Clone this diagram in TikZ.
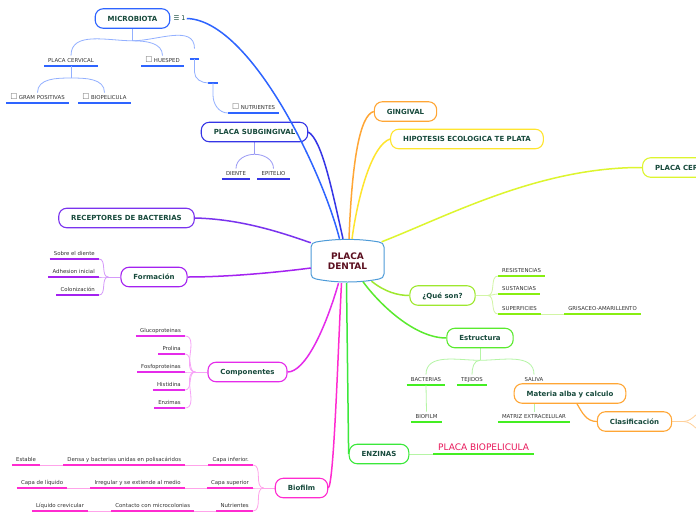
\documentclass[tikz,border=0pt]{standalone}
\usepackage{fontspec}
\setmainfont{DejaVu Sans}
\usepackage{tikz}
\usetikzlibrary{positioning,backgrounds,calc}
\usepackage{xcolor}
\definecolor{darktext}{HTML}{174A3C}
\definecolor{subtext}{HTML}{333333}
\definecolor{boxgray}{HTML}{6E6E6E}
\definecolor{rootred}{HTML}{5C1020}
\definecolor{rootblue}{HTML}{4D9BD8}
\definecolor{mbblue}{HTML}{2E64FF}
\definecolor{mbsoft}{HTML}{93B0FF}
\definecolor{sgblue}{HTML}{3535E6}
\definecolor{sgsoft}{HTML}{9A9AF5}
\definecolor{rcviolet}{HTML}{7A33EE}
\definecolor{fmpurple}{HTML}{A422F0}
\definecolor{fmsoft}{HTML}{D59AFA}
\definecolor{cpmagenta}{HTML}{E52BEA}
\definecolor{cpsoft}{HTML}{F7A3F7}
\definecolor{bfpink}{HTML}{FF2BD0}
\definecolor{bfsoft}{HTML}{FFA3EA}
\definecolor{engreen}{HTML}{3BE83B}
\definecolor{esgreen}{HTML}{5AEA2E}
\definecolor{esline}{HTML}{44EE22}
\definecolor{essoft}{HTML}{B5F5A5}
\definecolor{qsgreen}{HTML}{9EE82E}
\definecolor{qsline}{HTML}{88EE11}
\definecolor{qssoft}{HTML}{D2F5A5}
\definecolor{gvorange}{HTML}{FFA635}
\definecolor{gvsoft}{HTML}{FFD099}
\definecolor{hpyellow}{HTML}{FFE52E}
\definecolor{pclime}{HTML}{DDF52E}
\definecolor{bioredtext}{HTML}{E8185A}
\newcommand{\tickbox}{{\color{boxgray}\fontsize{8}{7}\selectfont ☐}\hspace{1.5pt}}

\begin{document}
\begin{tikzpicture}[
  x=1pt, y=1pt,
  maintopic/.style={
    draw=#1,
    fill=white,
    rounded corners=8pt,
    line width=1.1pt,
    font=\bfseries\fontsize{7}{8}\selectfont,
    text=darktext,
    inner xsep=12.5pt,
    inner ysep=0pt,
    minimum height=19.5pt,
    text height=5pt,
    text depth=0pt
  },
  roottopic/.style={
    font=\bfseries\fontsize{9}{10.5}\selectfont,
    text=rootred,
    align=center,
    minimum width=73pt,
    minimum height=44pt,
    inner sep=0pt
  },
  subtopic/.style={
    font=\fontsize{5.4}{6}\selectfont,
    text=subtext,
    inner xsep=4pt,
    inner ysep=2.5pt,
    text height=4pt,
    text depth=1pt
  },
  uline/.style={draw=#1, line width=1.8pt},
  sublink/.style={draw=#1, line width=0.8pt},
  mainlink/.style={draw=#1, line width=1.5pt},
  rootline/.style={draw=rootblue, line width=1pt, fill=white}
]

  \useasboundingbox (0,0) rectangle (696,-520);
  \clip (0,0) rectangle (696,-520);

  % Central topic
  \node[roottopic] (pd) at (347.5,-261) {PLACA\\DENTAL};

  % --- UPPER LEFT: MICROBIOTA ---
  \node[maintopic=mbblue] (mbiota) at (132.5,-18.5) {MICROBIOTA};
  \node[right=2pt of mbiota, font=\fontsize{6.5}{7}\selectfont, text=darktext, inner sep=1pt] (mbicon) {☰ 1};
  \node[subtopic, anchor=south] (mcerv) at (71,-66) {PLACA CERVICAL};
  \node[subtopic, anchor=south] (mhues) at (162.5,-66) {\tickbox HUESPED};
  \node[subtopic, anchor=south, inner xsep=0pt, minimum width=9pt] (mfirst) at (194.5,-59) {};
  \node[subtopic, anchor=south, inner xsep=0pt, minimum width=9pt] (msecond) at (213,-83) {};
  \node[subtopic, anchor=south west] (mnutr) at (228,-113) {\tickbox NUTRIENTES};
  \node[subtopic, anchor=south] (mgram) at (37.5,-103) {\tickbox GRAM POSITIVAS};
  \node[subtopic, anchor=south] (mbiop) at (104.5,-103) {\tickbox BIOPELICULA};

  % --- PLACA SUBGINGIVAL ---
  \node[maintopic=sgblue] (subg) at (254.5,-132) {PLACA SUBGINGIVAL};
  \node[subtopic, anchor=south] (sdien) at (236,-179) {DIENTE};
  \node[subtopic, anchor=south] (sepit) at (273.5,-179) {EPITELIO};

  % --- LEFT SIDE ---
  \node[maintopic=rcviolet] (recep) at (126.5,-218) {RECEPTORES DE BACTERIAS};

  \node[maintopic=fmpurple] (formac) at (154,-277) {Formación};
  \node[subtopic, anchor=south east] (fsobre) at (99,-259) {Sobre el diente};
  \node[subtopic, anchor=south east] (fadhe) at (99,-277) {Adhesion inicial};
  \node[subtopic, anchor=south east] (fcolo) at (99,-295) {Colonización};

  \node[maintopic=cpmagenta] (compon) at (247.5,-372) {Componentes};
  \node[subtopic, anchor=south east] (cgluc) at (185,-336) {Glucoproteinas};
  \node[subtopic, anchor=south east] (cprol) at (185,-354) {Prolina};
  \node[subtopic, anchor=south east] (cfosf) at (185,-372) {Fosfoproteinas};
  \node[subtopic, anchor=south east] (chist) at (185,-390) {Histidina};
  \node[subtopic, anchor=south east] (cenzi) at (185,-408) {Enzimas};

  \node[maintopic=bfpink] (biofilm) at (301.5,-488) {Biofilm};
  \node[subtopic, anchor=south east] (binf) at (253,-465) {Capa inferior.};
  \node[subtopic, left=23pt of binf.south west, anchor=south east] (bdensa) {Densa y bacterias unidas en polisacáridos};
  \node[subtopic, left=23pt of bdensa.south west, anchor=south east] (bestab) {Estable};
  \node[subtopic, anchor=south east] (bsup) at (253,-488) {Capa superior};
  \node[subtopic, left=22pt of bsup.south west, anchor=south east] (birreg) {Irregular y se extiende al medio};
  \node[subtopic, left=23pt of birreg.south west, anchor=south east] (bliq) {Capa de líquido};
  \node[subtopic, anchor=south east] (bnutr) at (253,-511) {Nutrientes};
  \node[subtopic, left=22pt of bnutr.south west, anchor=south east] (bcont) {Contacto con microcolonias};
  \node[subtopic, left=23pt of bcont.south west, anchor=south east] (bcrev) {Líquido crevicular};

  % --- RIGHT SIDE ---
  \node[maintopic=gvorange] (gingival) at (405.5,-111.5) {GINGIVAL};
  \node[maintopic=hpyellow] (hipot) at (467,-139) {HIPOTESIS ECOLOGICA TE PLATA};
  \node[maintopic=pclime, anchor=west] (placacer) at (642,-167.5) {PLACA CERVICAL};

  \node[maintopic=qsgreen] (queson) at (442.5,-295.5) {¿Qué son?};
  \node[subtopic, anchor=south west] (qres) at (498,-276) {RESISTENCIAS};
  \node[subtopic, anchor=south west] (qsus) at (498,-294) {SUSTANCIAS};
  \node[subtopic, anchor=south west] (qsup) at (498,-314) {SUPERFICIES};
  \node[subtopic, right=23pt of qsup.south east, anchor=south west] (qgris) {GRISACEO-AMARILLENTO};

  \node[maintopic=esgreen] (estruct) at (480,-338) {Estructura};
  \node[subtopic, anchor=south] (sbact) at (426,-385) {BACTERIAS};
  \node[subtopic, anchor=south] (stej) at (472,-385) {TEJIDOS};
  \node[subtopic, anchor=south] (ssal) at (534,-385) {SALIVA};
  \node[subtopic, anchor=south] (sbiof) at (426.5,-422) {BIOFILM};
  \node[subtopic, anchor=south] (smatr) at (534,-422) {MATRIZ EXTRACELULAR};

  \node[maintopic=gvorange] (materia) at (570,-393.5) {Materia alba y calculo};
  \node[maintopic=gvorange] (clasif) at (634.5,-421.5) {Clasificación};
  \coordinate (clsup) at (708,-409);
  \coordinate (clsdown) at (708,-434);

  \node[maintopic=engreen] (enzinas) at (379,-454) {ENZINAS};
  \node[subtopic, anchor=south west, font=\fontsize{9}{10}\selectfont, text=bioredtext,
    text height=6.5pt, text depth=1.5pt, inner ysep=1.5pt, inner xsep=5pt] (ebiop) at (433,-454) {PLACA BIOPELICULA};

  \begin{scope}[on background layer]
    \fill[white] (0,0) rectangle (696,-520);

    % underlines of the subtopics
    \foreach \n in {mcerv,mhues,mfirst,msecond,mnutr,mgram,mbiop}
      \draw[uline=mbblue] (\n.south west) -- (\n.south east);
    \foreach \n in {sdien,sepit}
      \draw[uline=sgblue] (\n.south west) -- (\n.south east);
    \foreach \n in {fsobre,fadhe,fcolo}
      \draw[uline=fmpurple] (\n.south west) -- (\n.south east);
    \foreach \n in {cgluc,cprol,cfosf,chist,cenzi}
      \draw[uline=cpmagenta] (\n.south west) -- (\n.south east);
    \foreach \n in {binf,bdensa,bestab,bsup,birreg,bliq,bnutr,bcont,bcrev}
      \draw[uline=bfpink] (\n.south west) -- (\n.south east);
    \foreach \n in {sbact,stej,ssal,sbiof,smatr,ebiop}
      \draw[uline=esline] (\n.south west) -- (\n.south east);
    \foreach \n in {qres,qsus,qsup,qgris}
      \draw[uline=qsline] (\n.south west) -- (\n.south east);

    % thin links to the subtopics
    \draw[sublink=mbsoft] (mbiota.south) -- ++(0,-12) coordinate (mbjoin);
    \draw[sublink=mbsoft] (mbjoin) to[out=180,in=90] (mcerv.north);
    \draw[sublink=mbsoft] (mbjoin) to[out=0,in=90] (mhues.north);
    \draw[sublink=mbsoft] (mbjoin) to[out=0,in=90] (mfirst.north);
    \draw[sublink=mbsoft] (mcerv.south) -- ++(0,-12) coordinate (cvjoin);
    \draw[sublink=mbsoft] (cvjoin) to[out=180,in=90] (mgram.north);
    \draw[sublink=mbsoft] (cvjoin) to[out=0,in=90] (mbiop.north);
    \draw[sublink=mbsoft] (mfirst.south) -- ++(0,-13) to[out=-90,in=180] (msecond.south west);
    \draw[sublink=mbsoft] (msecond.south) -- ++(0,-12) to[out=-90,in=180] (mnutr.south west);

    \draw[sublink=sgsoft] (subg.south) -- ++(0,-12) coordinate (sgjoin);
    \foreach \n/\a in {sdien/180,sepit/0}
      \draw[sublink=sgsoft] (sgjoin) to[out=\a,in=90] (\n.north);

    \draw[sublink=fmsoft] (formac.west) -- ++(-12,0) coordinate (fmjoin);
    \foreach \n in {fsobre,fadhe,fcolo}
      \draw[sublink=fmsoft] (fmjoin) to[out=180,in=0] (\n.south east);

    \draw[sublink=cpsoft] (compon.west) -- ++(-12,0) coordinate (cpjoin);
    \foreach \n in {cgluc,cprol,cfosf,chist,cenzi}
      \draw[sublink=cpsoft] (cpjoin) to[out=180,in=0] (\n.south east);

    \draw[sublink=bfsoft] (biofilm.west) -- ++(-11,0) coordinate (bfjoin);
    \foreach \n in {binf,bsup,bnutr}
      \draw[sublink=bfsoft] (bfjoin) to[out=180,in=0] (\n.south east);
    \foreach \a/\b in {binf/bdensa,bdensa/bestab,bsup/birreg,birreg/bliq,bnutr/bcont,bcont/bcrev}
      \draw[sublink=bfsoft] (\a.south west) -- (\b.south east);

    \draw[sublink=essoft] (estruct.south) -- ++(0,-12) coordinate (esjoin);
    \foreach \n/\a in {sbact/180,stej/180,ssal/0}
      \draw[sublink=essoft] (esjoin) to[out=\a,in=90] (\n.north);
    \draw[sublink=essoft] (sbact.south) -- (sbiof.north);
    \draw[sublink=essoft] (ssal.south) -- (smatr.north);
    \draw[sublink=essoft] (enzinas.east) -- (ebiop.south west);

    \draw[sublink=qssoft] (queson.east) -- ++(12,0) coordinate (qsjoin);
    \foreach \n in {qres,qsus,qsup}
      \draw[sublink=qssoft] (qsjoin) to[out=0,in=180] (\n.south west);
    \draw[sublink=qssoft] (qsup.south east) -- (qgris.south west);

    \draw[sublink=gvsoft] (clasif.east) -- ++(11,0) coordinate (cljoin);
    \foreach \c in {clsup,clsdown}
      \draw[sublink=gvsoft] (cljoin) to[out=0,in=180] (\c);

    % outline of the central topic
    \begin{scope}[shift={(pd.center)}]
      \draw[rootline] (-36.5,14) arc[start angle=180, end angle=90, radius=5]
        .. controls (-12,22.5) and (12,22.5) .. (31.5,19)
        arc[start angle=90, end angle=0, radius=5] -- (36.5,-13)
        arc[start angle=0, end angle=-90, radius=5]
        .. controls (12,-22) and (-12,-22) .. (-31.5,-18)
        arc[start angle=270, end angle=180, radius=5] -- cycle;
    \end{scope}
  \end{scope}

  % Main branches from the central topic
  \draw[mainlink=mbblue] (mbicon.east) .. controls (250,-20) and (322,-170) .. ([xshift=-8pt]pd.north);
  \draw[mainlink=sgblue] (subg.east) .. controls (322,-140) and (332,-190) .. ([xshift=-4.5pt]pd.north);
  \draw[mainlink=gvorange] (gingival.west) .. controls (360,-115) and (352,-160) .. ([xshift=1.5pt]pd.north);
  \draw[mainlink=hpyellow] (hipot.west) .. controls (372,-145) and (358,-195) .. ([xshift=4.5pt]pd.north);
  \draw[mainlink=pclime] (placacer.west) .. controls (540,-167) and (450,-215) .. ([xshift=-2.5pt,yshift=-3pt]pd.north east);
  \draw[mainlink=rcviolet] (recep.east) .. controls (240,-219) and (280,-232) .. ([yshift=-4pt]pd.north west);
  \draw[mainlink=fmpurple] (formac.east) .. controls (230,-277) and (280,-272) .. ([yshift=-7pt]pd.west);
  \draw[mainlink=cpmagenta] (compon.east) .. controls (305,-372) and (325,-330) .. ([xshift=-9pt]pd.south);
  \draw[mainlink=bfpink] (biofilm.east) .. controls (334,-484) and (338,-350) .. ([xshift=-6pt]pd.south);
  \draw[mainlink=engreen] ([xshift=-1pt]pd.south) -- (enzinas.west);
  \draw[mainlink=esgreen] ([xshift=15.5pt,yshift=1.5pt]pd.south) .. controls (380,-305) and (415,-338) .. (estruct.west);
  \draw[mainlink=qsgreen] ([xshift=24pt,yshift=2pt]pd.south) .. controls (385,-292) and (398,-295.5) .. (queson.west);

  % Materia alba to its child
  \draw[mainlink=gvorange, line width=1.2pt] ([xshift=7pt]materia.south) to[out=-60,in=180] (clasif.west);

\end{tikzpicture}
\end{document}
